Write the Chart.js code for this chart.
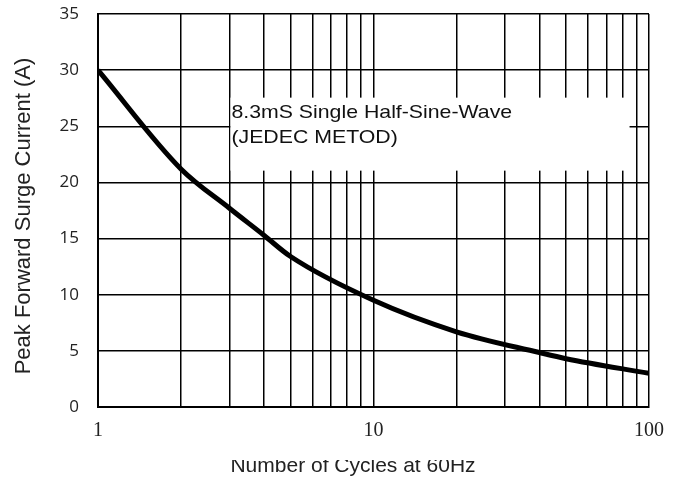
<!DOCTYPE html>
<html>
<head>
<meta charset="utf-8">
<script src="https://cdn.jsdelivr.net/npm/chart.js@4"></script>
<style>
html,body{margin:0;padding:0;background:#fff;}
#wrap{width:681px;height:479px;}
</style>
</head>
<body>
<div id="wrap"><canvas id="grafico" width="681" height="479"></canvas></div>
<script>

// dados
const ciclos = [1, 2, 3, 4, 5, 10, 20, 40, 50, 100];
const corrente = [30, 21.2, 17.7, 15.3, 13.4, 9.5, 6.7, 4.85, 4.3, 3.0];

// grade do eixo x (log)
const gradeX = [1,2,3,4,5,6,7,8,9,10,20,30,40,50,60,70,80,90,100];
const rotulosX = [1, 10, 100];

const tituloX = "Number of Cycles at 60Hz";
const tituloY = "Peak Forward Surge Current (A)";
const nota = ["8.3mS Single Half-Sine-Wave", "(JEDEC METOD)"];


// =============================
// CAIXA DA NOTA + TITULOS
// =============================

const pluginNota = {
id: "nota",
beforeDatasetsDraw(chart){
const ctx = chart.ctx;
const x = chart.scales.x;
const y = chart.scales.y;
const esq = x.getPixelForValue(3) + 1;
const dir = x.getPixelForValue(85);
const topo = y.getPixelForValue(27.55);
const base = y.getPixelForValue(21.05);
ctx.save();
ctx.fillStyle = "#fff";
ctx.fillRect(esq, topo, dir - esq, base - topo);
ctx.fillStyle = "#111";
ctx.font = "19px 'Liberation Sans', Arial, sans-serif";
ctx.textBaseline = "middle";
ctx.textAlign = "left";
ctx.translate(esq + 1, topo);
ctx.scale(1.12, 1);
ctx.fillText(nota[0], 0, 15);
ctx.fillText(nota[1], 0, 40);
ctx.restore();
},
afterDraw(chart){
const ctx = chart.ctx;
ctx.save();
ctx.fillStyle = "#222";
ctx.textAlign = "center";
ctx.textBaseline = "alphabetic";
// titulo x (cortado em cima como no original)
ctx.save();
ctx.font = "21px 'Liberation Sans', Arial, sans-serif";
ctx.beginPath();
ctx.rect(0, 460, chart.width, 30);
ctx.clip();
ctx.fillText(tituloX, 353, 472);
ctx.restore();
// titulo y
ctx.font = "22px 'Liberation Sans', Arial, sans-serif";
ctx.textBaseline = "middle";
ctx.translate(24, 216);
ctx.rotate(-Math.PI/2);
ctx.fillText(tituloY, 0, 0);
ctx.restore();
}
};


// =============================
// GRAFICO
// =============================

const ctx = document.getElementById("grafico").getContext("2d");

const chart = new Chart(ctx, {
type: "line",
data: {
datasets: [{
data: ciclos.map((c, i) => ({x: c, y: corrente[i]})),
borderColor: "#000",
borderWidth: 5,
pointRadius: 0,
cubicInterpolationMode: "monotone",
fill: false
}]
},
options: {
responsive: false,
animation: false,
layout: { autoPadding: false, padding: { top: 14, right: 32, left: 0, bottom: 0 } },
plugins: {
legend: { display: false },
tooltip: { enabled: false }
},
scales: {
x: {
type: "logarithmic",
min: 1,
max: 100,
afterBuildTicks(scale){
scale.ticks = gradeX.map(v => ({value: v}));
},
afterFit(scale){
scale.height = 72;
scale.paddingLeft = 0;
scale.paddingRight = 0;
},
grid: { color: "#000", lineWidth: 1.5, drawTicks: false },
border: { color: "#000", width: 2 },
ticks: {
autoSkip: false,
maxRotation: 0,
padding: 12,
color: "#222",
font: { family: "'Liberation Serif', 'Times New Roman', serif", size: 20 },
callback(v){
return rotulosX.includes(v) ? String(v) : "";
}
}
},
y: {
min: 0,
max: 35,
afterFit(scale){
scale.width = 98;
scale.paddingTop = 0;
scale.paddingBottom = 0;
},
grid: { color: "#000", lineWidth: 1.5, drawTicks: false },
border: { color: "#000", width: 2 },
ticks: {
stepSize: 5,
padding: 19,
color: "#222",
font: { family: "'Open Sans', 'Noto Sans', sans-serif", size: 17 }
}
}
}
},
plugins: [pluginNota]
});

</script>
</body>
</html>
